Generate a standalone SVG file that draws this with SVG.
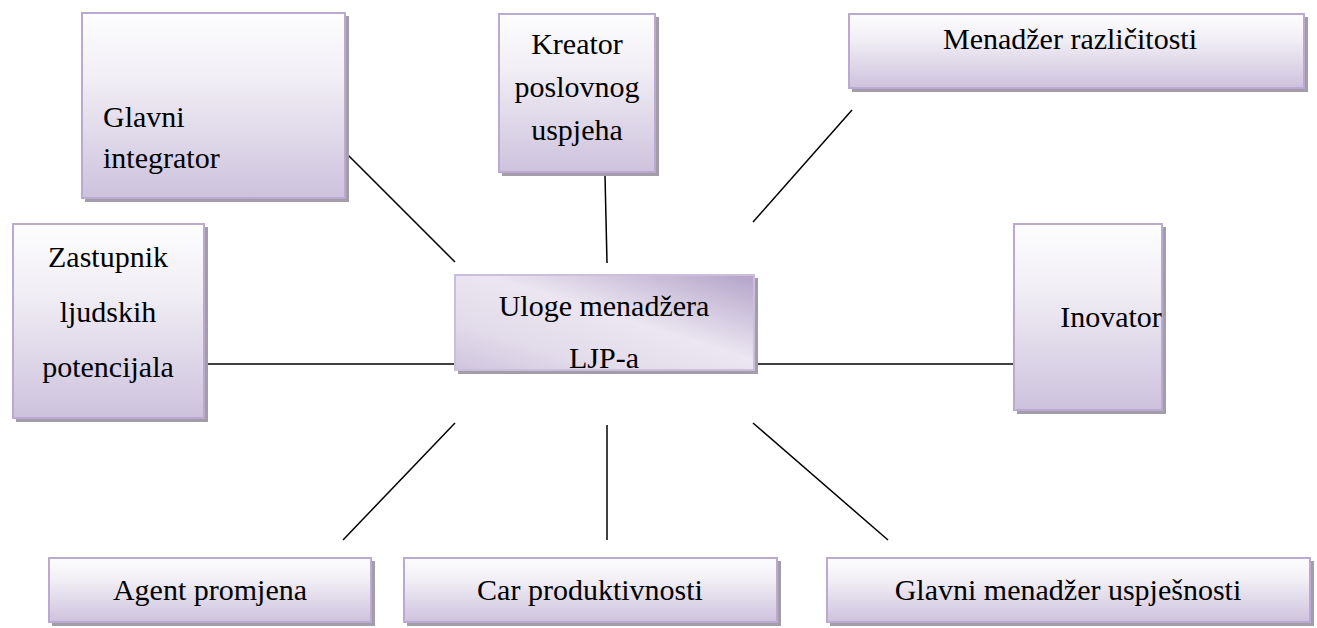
<svg xmlns="http://www.w3.org/2000/svg" width="1317" height="628" viewBox="0 0 1317 628">
<style>
.box{fill:url(#g);stroke:#baa9d1;stroke-width:2}
.sh{fill:#a39ca9}
.c{stroke:#000;stroke-width:1.5;fill:none}
</style>
<defs>
<linearGradient id="g" x1="0" y1="0" x2="0" y2="1">
<stop offset="0" stop-color="#fdfdfe"/>
<stop offset="0.35" stop-color="#f1eef5"/>
<stop offset="1" stop-color="#cdc2dd"/>
</linearGradient>
<linearGradient id="gc" x1="1" y1="0" x2="0" y2="1">
<stop offset="0" stop-color="#b3a3c9"/>
<stop offset="0.45" stop-color="#ebe6f1"/>
<stop offset="0.75" stop-color="#e2dbea"/>
<stop offset="1" stop-color="#cfc4de"/>
</linearGradient>
</defs>
<rect width="1317" height="628" fill="#fff"/>
<g id="connectors">
<line class="c" x1="345" y1="152" x2="455" y2="262"/>
<line class="c" x1="605" y1="175" x2="607" y2="263"/>
<line class="c" x1="852" y1="110" x2="753" y2="222"/>
<line class="c" x1="206" y1="364" x2="455" y2="364"/>
<line class="c" x1="757" y1="364" x2="1013" y2="364"/>
<line class="c" x1="455" y1="423" x2="343" y2="540"/>
<line class="c" x1="607" y1="425" x2="607" y2="540"/>
<line class="c" x1="753" y1="423" x2="888" y2="540"/>
</g>
<g font-family="'Liberation Serif', 'Times New Roman', 'DejaVu Serif', serif" font-size="30" fill="#000">
<g id="glavni-integrator">
<rect class="sh" x="85" y="16" width="264" height="186"/>
<rect class="box" x="82" y="13" width="263" height="185"/>
<text x="103" y="127">Glavni</text>
<text x="103" y="168">integrator</text>
</g>
<g id="kreator">
<rect class="sh" x="502" y="17" width="157" height="159"/>
<rect class="box" x="499" y="14" width="156" height="158"/>
<text x="577" y="54" text-anchor="middle">Kreator</text>
<text x="577" y="97" text-anchor="middle">poslovnog</text>
<text x="577" y="140" text-anchor="middle">uspjeha</text>
</g>
<g id="menadzer-razlicitosti">
<rect class="sh" x="852" y="17" width="456" height="75"/>
<rect class="box" x="849" y="14" width="455" height="74"/>
<text x="1070" y="49" text-anchor="middle">Menadžer različitosti</text>
</g>
<g id="zastupnik">
<rect class="sh" x="16" y="227" width="192" height="195"/>
<rect class="box" x="13" y="224" width="191" height="194"/>
<text x="108" y="267" text-anchor="middle">Zastupnik</text>
<text x="108" y="322" text-anchor="middle">ljudskih</text>
<text x="108" y="377" text-anchor="middle">potencijala</text>
</g>
<g id="uloge">
<rect class="sh" x="458" y="278" width="300" height="96"/>
<rect x="455" y="275" width="299" height="95" fill="url(#gc)" stroke="#c9bedb" stroke-width="2"/>
<text x="604" y="316" text-anchor="middle">Uloge menadžera</text>
<text x="604" y="368" text-anchor="middle">LJP-a</text>
</g>
<g id="inovator">
<rect class="sh" x="1017" y="227" width="149" height="187"/>
<rect class="box" x="1014" y="224" width="148" height="186"/>
<text x="1111" y="327" text-anchor="middle">Inovator</text>
</g>
<g id="agent-promjena">
<rect class="sh" x="52" y="561" width="323" height="65"/>
<rect class="box" x="49" y="558" width="322" height="64"/>
<text x="210" y="600" text-anchor="middle">Agent promjena</text>
</g>
<g id="car-produktivnosti">
<rect class="sh" x="407" y="561" width="374" height="65"/>
<rect class="box" x="404" y="558" width="373" height="64"/>
<text x="590" y="600" text-anchor="middle">Car produktivnosti</text>
</g>
<g id="glavni-menadzer">
<rect class="sh" x="830" y="561" width="484" height="65"/>
<rect class="box" x="827" y="558" width="483" height="64"/>
<text x="1068" y="600" text-anchor="middle">Glavni menadžer uspješnosti</text>
</g>
</g>
</svg>
